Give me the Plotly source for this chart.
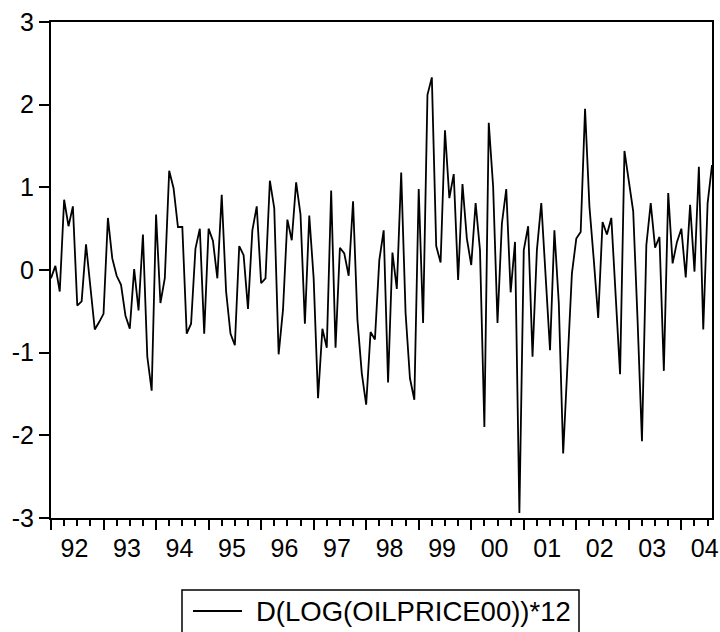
import plotly.graph_objects as go

# Monthly observations, Jan 1992 .. Aug 2004
start_year = 1992
values = [
    -0.10, 0.05, -0.26, 0.85, 0.53, 0.77, -0.43, -0.38, 0.31, -0.20, -0.72, -0.63,
    -0.53, 0.63, 0.14, -0.07, -0.18, -0.55, -0.71, 0.01, -0.49, 0.43, -1.05, -1.46,
    0.67, -0.40, -0.10, 1.20, 0.99, 0.52, 0.52, -0.77, -0.65, 0.26, 0.50, -0.77,
    0.50, 0.35, -0.10, 0.91, -0.26, -0.77, -0.91, 0.29, 0.18, -0.47, 0.48, 0.77,
    -0.16, -0.10, 1.08, 0.75, -1.02, -0.48, 0.61, 0.36, 1.06, 0.67, -0.65, 0.66,
    -0.10, -1.55, -0.71, -0.94, 0.96, -0.94, 0.27, 0.20, -0.07, 0.83, -0.60, -1.25,
    -1.63, -0.75, -0.84, 0.12, 0.48, -1.36, 0.21, -0.23, 1.18, -0.52, -1.31, -1.57,
    0.98, -0.64, 2.12, 2.33, 0.29, 0.09, 1.69, 0.87, 1.16, -0.12, 1.04, 0.38,
    0.06, 0.81, 0.24, -1.90, 1.78, 1.01, -0.64, 0.56, 0.98, -0.27, 0.34, -2.94,
    0.24, 0.53, -1.05, 0.24, 0.81, -0.08, -0.97, 0.48, -0.40, -2.22, -1.10, -0.04,
    0.38, 0.46, 1.95, 0.77, 0.12, -0.58, 0.58, 0.43, 0.63, -0.32, -1.26, 1.44,
    1.09, 0.71, -0.61, -2.07, 0.30, 0.81, 0.27, 0.40, -1.22, 0.93, 0.08, 0.34,
    0.50, -0.09, 0.79, -0.02, 1.25, -0.72, 0.81, 1.27,
]
months = [f"{start_year + i // 12}-{i % 12 + 1:02d}" for i in range(len(values))]
year_labels = ["92", "93", "94", "95", "96", "97", "98", "99", "00", "01", "02", "03", "04"]
y_ticks = [3, 2, 1, 0, -1, -2, -3]
y_ticktext = ["3", "2", "1", "0", "-1", "-2", "-3"]
series_name = "D(LOG(OILPRICE00))*12"

# decimal-year positions of the months
x = [int(m[:4]) + (int(m[5:]) - 1) / 12 for m in months]
years = [start_year + k for k in range(len(year_labels))]
x_range = [x[0], x[-1]]

FONT = "Liberation Sans, Arial, sans-serif"
W, H = 720, 632
ML, MR, MT, MB = 51, 8, 22, 114
PW, PH = W - ML - MR, H - MT - MB


def px_x(p):  # page pixel -> paper x
    return (p - ML) / PW


def px_y(p):  # page pixel -> paper y
    return (H - MB - p) / PH


fig = go.Figure()
fig.add_trace(go.Scatter(
    x=x, y=values, mode="lines", name=series_name,
    line=dict(color="black", width=1.8), showlegend=False,
))
# invisible trace to drive the label axis
fig.add_trace(go.Scatter(x=x_range, y=[0, 0], xaxis="x2", mode="lines",
                         line=dict(color="rgba(0,0,0,0)"), showlegend=False,
                         hoverinfo="skip"))

quarters = [yr + q / 4 for yr in years for q in (1, 2, 3) if yr + q / 4 <= x_range[1]]

# legend box (drawn as shapes + text so that it does not shrink the plot)
fig.add_shape(type="rect", xref="paper", yref="paper",
              x0=px_x(182), x1=px_x(579), y0=px_y(590), y1=px_y(645),
              line=dict(color="black", width=1.5), fillcolor="white", layer="above")
fig.add_shape(type="line", xref="paper", yref="paper",
              x0=px_x(193), x1=px_x(242), y0=px_y(611), y1=px_y(611),
              line=dict(color="black", width=1.8))
fig.add_annotation(xref="paper", yref="paper", x=px_x(254), y=px_y(611),
                   xanchor="left", yanchor="middle", showarrow=False,
                   text=series_name,
                   font=dict(family=FONT, size=27.5, color="black"))

fig.update_layout(
    width=W, height=H,
    margin=dict(l=ML, r=MR, t=MT, b=MB),
    paper_bgcolor="white", plot_bgcolor="white",
    font=dict(family=FONT, size=25, color="black"),
    showlegend=False,
    xaxis=dict(
        range=x_range, showgrid=False, zeroline=False, automargin=False,
        showline=True, linecolor="black", linewidth=2, mirror=True,
        tickmode="array", tickvals=years, ticks="outside", ticklen=10,
        tickwidth=2, tickcolor="black", showticklabels=False,
        minor=dict(tickmode="array", tickvals=quarters, ticks="outside",
                   ticklen=6, tickwidth=1.5, tickcolor="black", showgrid=False),
    ),
    xaxis2=dict(
        range=x_range, overlaying="x", anchor="y", side="bottom",
        showgrid=False, zeroline=False, showline=False, automargin=False,
        tickmode="array", tickvals=[yr + 0.445 for yr in years],
        ticktext=year_labels, ticks="outside", ticklen=8,
        tickcolor="rgba(0,0,0,0)",
        tickfont=dict(family=FONT, size=25, color="black"),
    ),
    yaxis=dict(
        range=[-3, 3], showgrid=False, zeroline=False, automargin=False,
        showline=True, linecolor="black", linewidth=2, mirror=True,
        tickmode="array", tickvals=y_ticks, ticktext=y_ticktext,
        ticks="outside", ticklen=10, tickwidth=1.5, tickcolor="black",
        ticklabelstandoff=0,
        tickfont=dict(family=FONT, size=25, color="black"),
    ),
)

fig.write_html("out.html",
               config={"displayModeBar": False},
               post_script="document.body.style.margin='0';document.body.style.overflow='hidden';")
